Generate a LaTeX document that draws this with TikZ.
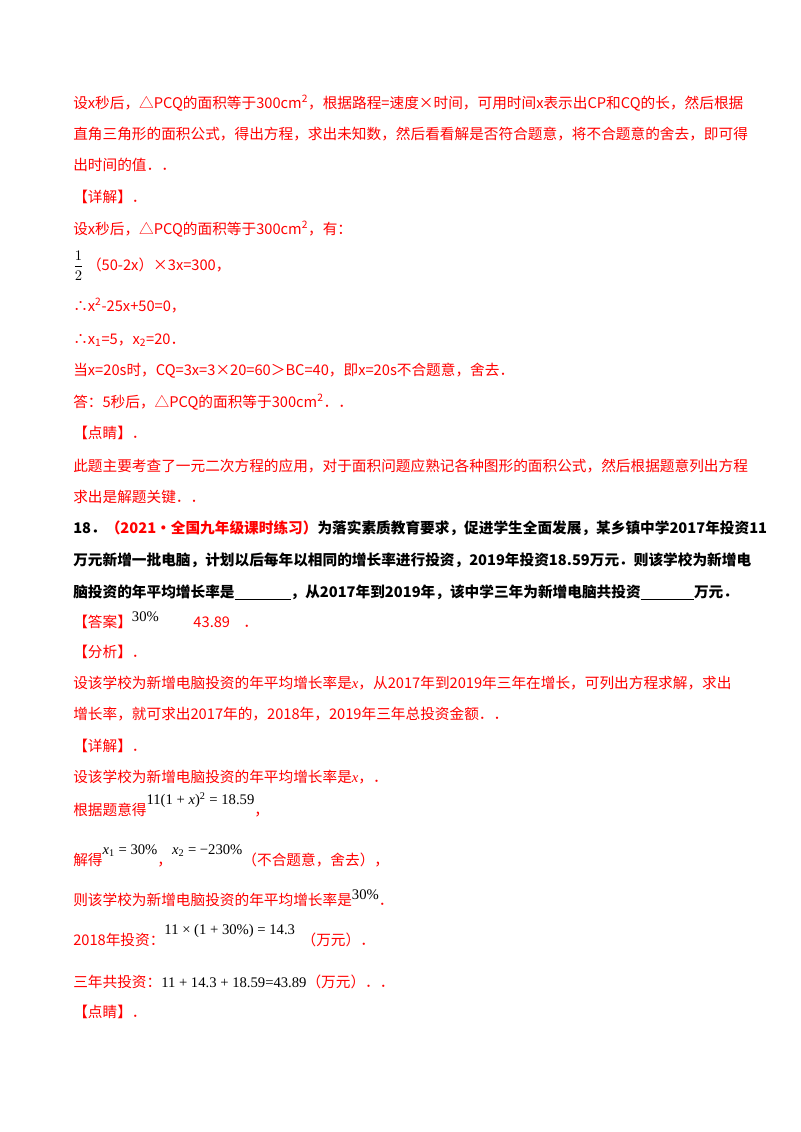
\documentclass[tikz,border=0pt]{standalone}
\usepackage{fontspec}
\setmainfont{Noto Sans CJK SC}
\newfontfamily\mf{Liberation Serif}
\definecolor{rd}{RGB}{255,0,0}
\begin{document}
\begin{tikzpicture}[x=0.75pt,y=-0.75pt,
  ln/.style={anchor=base west,inner sep=0pt,font=\fontsize{11}{13}\selectfont,text=rd},
  bl/.style={ln,text=black,font=\fontsize{11}{13}\selectfont\bfseries}]
\useasboundingbox (0,0) rectangle (800,1132);
\node[ln] (l1) at (73,108) {设x秒后，△PCQ的面积等于300cm\textsuperscript{2}，根据路程=速度×时间，可用时间x表示出CP和CQ的长，然后根据};
\node[ln] (l2) at (73,139) {直角三角形的面积公式，得出方程，求出未知数，然后看看解是否符合题意，将不合题意的舍去，即可得};
\node[ln] (l3) at (73,170) {出时间的值．．};
\node[ln] (l4) at (73,202) {【详解】．};
\node[ln] (l5) at (73,234) {设x秒后，△PCQ的面积等于300cm\textsuperscript{2}，有：};
\node[ln] (l6) at (73,270) {\textcolor{black}{$\displaystyle\frac{1}{2}$}\ （50-2x）×3x=300，};
\node[ln] (l7) at (73,311) {∴x\textsuperscript{2}-25x+50=0，};
\node[ln] (l8) at (73,344) {∴x\textsubscript{1}=5，x\textsubscript{2}=20．};
\node[ln] (l9) at (73,375) {当x=20s时，CQ=3x=3×20=60＞BC=40，即x=20s不合题意，舍去．};
\node[ln] (l10) at (73,407) {答：5秒后，△PCQ的面积等于300cm\textsuperscript{2}．．};
\node[ln] (l11) at (73,438) {【点睛】．};
\node[ln] (l12) at (73,471) {此题主要考查了一元二次方程的应用，对于面积问题应熟记各种图形的面积公式，然后根据题意列出方程};
\node[ln] (l13) at (73,502) {求出是解题关键．．};
\node[bl] (q1) at (73,533) {18．\textcolor{rd}{（2021·全国九年级课时练习）}为落实素质教育要求，促进学生全面发展，某乡镇中学2017年投资11};
\node[bl] (q2) at (73,565) {万元新增一批电脑，计划以后每年以相同的增长率进行投资，2019年投资18.59万元．则该学校为新增电};
\node[bl] (q3) at (73,597) {脑投资的年平均增长率是\underline{\hspace{42pt}}，从2017年到2019年，该中学三年为新增电脑共投资\underline{\hspace{40pt}}万元．};
\node[ln] (a1) at (73,627) {【答案】\raisebox{4pt}{\mf\textcolor{black}{30\%}}\hspace{26pt}43.89\hspace{10pt}．};
\node[ln] (a2) at (73,657) {【分析】．};
\node[ln] (a3) at (73,688) {设该学校为新增电脑投资的年平均增长率是{\mf\textit{x}}，从2017年到2019年三年在增长，可列出方程求解，求出};
\node[ln] (a4) at (73,719) {增长率，就可求出2017年的，2018年，2019年三年总投资金额．．};
\node[ln] (a5) at (73,751) {【详解】．};
\node[ln] (a6) at (73,782) {设该学校为新增电脑投资的年平均增长率是{\mf\textit{x}}，．};
\node[ln] (a7) at (73,815) {根据题意得\raisebox{8pt}{\textcolor{black}{\mf 11(1 + \textit{x})\textsuperscript{2} = 18.59}}，};
\node[ln] (a8) at (73,865) {解得\raisebox{8pt}{\textcolor{black}{\mf \textit{x}\textsubscript{1} = 30\%}}，\raisebox{8pt}{\textcolor{black}{\mf \textit{x}\textsubscript{2} = −230\%}}（不合题意，舍去），};
\node[ln] (a9) at (73,905) {则该学校为新增电脑投资的年平均增长率是\raisebox{4pt}{\textcolor{black}{\mf 30\%}}．};
\node[ln] (a10) at (73,945) {2018年投资：\raisebox{8pt}{\textcolor{black}{\mf 11 × (1 + 30\%) = 14.3}}\ \ （万元）．};
\node[ln] (a11) at (73,987) {三年共投资：\textcolor{black}{\mf 11 + 14.3 + 18.59=43.89}（万元）．．};
\node[ln] (a12) at (73,1017) {【点睛】．};
\end{tikzpicture}
\end{document}
